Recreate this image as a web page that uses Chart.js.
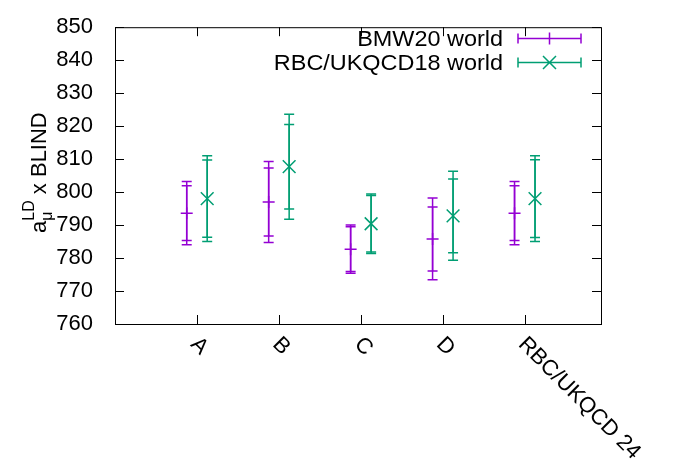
<!DOCTYPE html>
<html>
<head>
<meta charset="utf-8">
<script src="https://cdn.jsdelivr.net/npm/chart.js@4/dist/chart.umd.min.js"></script>
<style>
  html, body { margin: 0; padding: 0; background: #fff; }
  canvas { display: block; }
</style>
</head>
<body>
<canvas id="chart" width="683" height="466"></canvas>
<script>
// data
const categories = ["A", "B", "C", "D", "RBC/UKQCD 24"];

const bmwValues = [793.6, 797.0, 782.7, 785.8, 793.6];
const bmwErrInner = [8.3, 10.3, 6.8, 9.7, 8.3];
const bmwErrOuter = [9.6, 12.3, 7.3, 12.4, 9.6];

const rbcValues = [798.0, 807.7, 790.4, 792.8, 798.0];
const rbcErrInner = [11.7, 12.8, 8.6, 11.2, 11.8];
const rbcErrOuter = [13.0, 15.9, 9.0, 13.5, 13.0];

const yTicks = [760, 770, 780, 790, 800, 810, 820, 830, 840, 850];

// constants
const FONT = "'Liberation Sans', Arial, Helvetica, sans-serif";
const PURPLE = "#9400d3";
const GREEN = "#009e73";
const OFFSET = 0.125;
const CAP = 5;
const TICK_LEN = 9;

function points(values, shift) {
  return values.map((v, i) => ({ x: i + 1 + shift, y: v }));
}

// draws the two error bars of every point (inner and outer)
const errorBars = {
  id: "errorBars",
  beforeDatasetsDraw(chart) {
    const ctx = chart.ctx;
    const xs = chart.scales.x;
    const ys = chart.scales.y;
    chart.data.datasets.forEach((ds) => {
      ctx.save();
      ctx.strokeStyle = ds.borderColor;
      ctx.lineWidth = 1.5;
      ds.data.forEach((p, i) => {
        const x = xs.getPixelForValue(p.x);
        [ds.errInner[i], ds.errOuter[i]].forEach((e) => {
          const top = ys.getPixelForValue(p.y + e);
          const bot = ys.getPixelForValue(p.y - e);
          ctx.beginPath();
          ctx.moveTo(x, top);
          ctx.lineTo(x, bot);
          ctx.moveTo(x - CAP, top);
          ctx.lineTo(x + CAP, top);
          ctx.moveTo(x - CAP, bot);
          ctx.lineTo(x + CAP, bot);
          ctx.stroke();
        });
      });
      ctx.restore();
    });
  },
};

// gnuplot style frame, inward ticks, rotated labels, axis title, key
const frame = {
  id: "frame",
  afterDraw(chart) {
    const ctx = chart.ctx;
    const { left, right, top, bottom } = chart.chartArea;
    const xs = chart.scales.x;
    const ys = chart.scales.y;

    ctx.save();
    ctx.strokeStyle = "#000";
    ctx.lineWidth = 1;
    ctx.strokeRect(left + 0.5, top + 0.5, right - left, bottom - top);

    ctx.beginPath();
    yTicks.forEach((t) => {
      const y = Math.round(ys.getPixelForValue(t)) + 0.5;
      ctx.moveTo(left, y);
      ctx.lineTo(left + TICK_LEN, y);
      ctx.moveTo(right, y);
      ctx.lineTo(right - TICK_LEN, y);
    });
    categories.forEach((c, i) => {
      const x = Math.round(xs.getPixelForValue(i + 1)) + 0.5;
      ctx.moveTo(x, bottom);
      ctx.lineTo(x, bottom - TICK_LEN);
      ctx.moveTo(x, top);
      ctx.lineTo(x, top + TICK_LEN);
    });
    ctx.stroke();

    // category labels, rotated 45 degrees clockwise
    ctx.fillStyle = "#000";
    ctx.font = "22px " + FONT;
    ctx.textAlign = "left";
    ctx.textBaseline = "middle";
    categories.forEach((c, i) => {
      const x = xs.getPixelForValue(i + 1);
      ctx.save();
      ctx.translate(x - 3, bottom + 17);
      ctx.rotate(Math.PI / 4);
      ctx.fillText(c, 0, 0);
      ctx.restore();
    });

    // y axis title: a_mu^LD x BLIND
    ctx.save();
    ctx.translate(46, (top + bottom) / 2 - 3);
    ctx.rotate(-Math.PI / 2);
    ctx.textBaseline = "alphabetic";
    const big = "22px " + FONT;
    const small = "16px " + FONT;
    ctx.font = big;
    const wA = ctx.measureText("a").width;
    const wRest = ctx.measureText(" x BLIND").width;
    ctx.font = small;
    const wScript = Math.max(ctx.measureText("LD").width, ctx.measureText("\u03bc").width);
    let pos = -(wA + wScript + wRest) / 2;
    ctx.font = big;
    ctx.fillText("a", pos, 0);
    pos += wA;
    ctx.font = small;
    ctx.fillText("\u03bc", pos, 6);
    ctx.fillText("LD", pos, -12);
    pos += wScript;
    ctx.font = big;
    ctx.fillText(" x BLIND", pos, 0);
    ctx.restore();

    // key in the top right corner
    const key = [
      { label: "BMW20 world", color: PURPLE, y: 38.5, style: "plus" },
      { label: "RBC/UKQCD18 world", color: GREEN, y: 62.5, style: "x" },
    ];
    key.forEach((k) => {
      ctx.save();
      ctx.font = "22px " + FONT;
      ctx.textAlign = "right";
      ctx.textBaseline = "middle";
      ctx.fillStyle = "#000";
      ctx.translate(503, k.y + 1);
      ctx.scale(1.065, 1);
      ctx.fillText(k.label, 0, 0);
      ctx.restore();

      ctx.strokeStyle = k.color;
      ctx.lineWidth = 1.5;
      ctx.beginPath();
      ctx.moveTo(518, k.y);
      ctx.lineTo(581, k.y);
      ctx.moveTo(518, k.y - CAP);
      ctx.lineTo(518, k.y + CAP);
      ctx.moveTo(581, k.y - CAP);
      ctx.lineTo(581, k.y + CAP);
      const cx = 549.5;
      if (k.style === "plus") {
        ctx.moveTo(cx, k.y - 6);
        ctx.lineTo(cx, k.y + 6);
      } else {
        ctx.moveTo(cx - 6.5, k.y - 6.5);
        ctx.lineTo(cx + 6.5, k.y + 6.5);
        ctx.moveTo(cx - 6.5, k.y + 6.5);
        ctx.lineTo(cx + 6.5, k.y - 6.5);
      }
      ctx.stroke();
    });
    ctx.restore();
  },
};

new Chart("chart", {
  type: "scatter",
  data: {
    datasets: [
      {
        label: "BMW20 world",
        data: points(bmwValues, -OFFSET),
        errInner: bmwErrInner,
        errOuter: bmwErrOuter,
        borderColor: PURPLE,
        backgroundColor: "transparent",
        pointStyle: "cross",
        pointRadius: 6,
        pointBorderWidth: 1.5,
        pointHoverRadius: 6,
      },
      {
        label: "RBC/UKQCD18 world",
        data: points(rbcValues, OFFSET),
        errInner: rbcErrInner,
        errOuter: rbcErrOuter,
        borderColor: GREEN,
        backgroundColor: "transparent",
        pointStyle: "crossRot",
        pointRadius: 9,
        pointBorderWidth: 1.5,
        pointHoverRadius: 9,
      },
    ],
  },
  options: {
    responsive: false,
    animation: false,
    devicePixelRatio: 1,
    events: [],
    layout: { padding: { top: 16, right: 82, left: 0, bottom: 0 } },
    plugins: {
      legend: { display: false },
      tooltip: { enabled: false },
    },
    scales: {
      x: {
        type: "linear",
        min: 0,
        max: 5.93,
        ticks: { display: false },
        grid: { display: false },
        border: { display: false },
        afterFit(scale) {
          scale.height = 142;
        },
      },
      y: {
        min: 760,
        max: 850,
        ticks: {
          stepSize: 10,
          color: "#000",
          padding: 14,
          font: { family: FONT, size: 22 },
        },
        grid: { display: false },
        border: { display: false },
        afterFit(scale) {
          scale.width = 115;
        },
      },
    },
  },
  plugins: [errorBars, frame],
});
</script>
</body>
</html>
